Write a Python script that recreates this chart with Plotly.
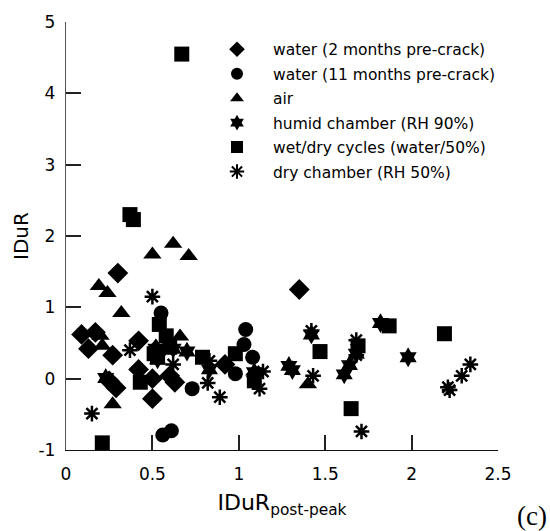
import plotly.graph_objects as go

# ---- data ----
water2_x = [0.09, 0.17, 0.13, 0.30, 0.27, 0.42, 0.42, 0.50, 0.50, 0.25, 0.29, 0.60, 0.63, 0.92, 1.35]
water2_y = [0.62, 0.65, 0.42, 1.48, 0.33, 0.53, 0.13, 0.00, -0.28, -0.03, -0.13, 0.04, -0.05, 0.20, 1.25]

water11_x = [0.55, 1.04, 1.03, 1.08, 0.98, 0.73, 0.56, 0.61]
water11_y = [0.92, 0.69, 0.48, 0.30, 0.07, -0.14, -0.79, -0.73]

air_x = [0.19, 0.24, 0.32, 0.50, 0.62, 0.71, 0.20, 0.21, 0.27, 0.66, 1.40, 1.09, 0.52]
air_y = [1.30, 1.20, 0.92, 1.74, 1.89, 1.72, 0.60, 0.46, -0.36, 0.59, -0.08, 0.10, 0.45]

humid_x = [0.23, 0.53, 0.70, 0.83, 1.09, 1.29, 1.31, 1.42, 1.61, 1.64, 1.68, 1.82, 1.98, 0.62, 0.52]
humid_y = [0.01, 0.27, 0.38, 0.13, 0.09, 0.18, 0.12, 0.62, 0.06, 0.19, 0.35, 0.78, 0.30, 0.42, 0.42]

wetdry_x = [0.67, 0.37, 0.39, 0.54, 0.58, 0.60, 0.51, 0.43, 0.79, 0.98, 1.09, 1.47, 1.69, 1.87, 2.19, 1.65, 0.21, 0.53]
wetdry_y = [4.55, 2.30, 2.23, 0.76, 0.60, 0.44, 0.35, -0.05, 0.30, 0.35, -0.03, 0.38, 0.46, 0.74, 0.63, -0.42, -0.90, 0.30]

dry_x = [0.15, 0.37, 0.50, 0.62, 0.82, 0.83, 0.89, 1.12, 1.14, 1.42, 1.43, 1.68, 1.68, 1.71, 2.21, 2.22, 2.29, 2.34]
dry_y = [-0.49, 0.40, 1.15, 0.20, -0.06, 0.25, -0.26, -0.14, 0.10, 0.67, 0.04, 0.54, 0.33, -0.74, -0.12, -0.16, 0.04, 0.20]

names = ["water (2 months pre-crack)", "water (11 months pre-crack)", "air",
         "humid chamber (RH 90%)", "wet/dry cycles (water/50%)", "dry chamber (RH 50%)"]

x_ticks = [0, 0.5, 1, 1.5, 2, 2.5]
x_ticktext = ["0", "0.5", "1", "1.5", "2", "2.5"]
y_ticks = [-1, 0, 1, 2, 3, 4, 5]
y_ticktext = ["-1", "0", "1", "2", "3", "4", "5"]

FONT = "DejaVu Sans"
TICK_LEN = 15

fig = go.Figure()

def add(x, y, name, symbol, size, lw=0):
    fig.add_trace(go.Scatter(
        x=x, y=y, mode="markers", name=name, cliponaxis=False, legendgroup=name,
        marker=dict(symbol=symbol, size=size, color="black",
                    line=dict(color="black", width=lw)),
    ))

add(water2_x, water2_y, names[0], "diamond", 16)
add(water11_x, water11_y, names[1], "circle", 15)
add(air_x, air_y, names[2], "triangle-up", 16)
add(humid_x, humid_y, names[3], "hexagram", 15)
add(wetdry_x, wetdry_y, names[4], "square", 15)
add(dry_x, dry_y, names[5], "asterisk-open", 13, 2.5)

axis_common = dict(
    showline=True, linewidth=1.3,
    ticks="inside", ticklen=TICK_LEN, tickcolor="#222", tickwidth=2,
    showgrid=False, zeroline=False, mirror=False,
    tickfont=dict(family=FONT, size=17, color="black"),
)

fig.update_layout(
    width=550, height=531,
    margin=dict(l=66, r=52, t=18, b=81),
    plot_bgcolor="white", paper_bgcolor="white",
    font=dict(family=FONT, color="black"),
    xaxis=dict(range=[0, 2.5], tickvals=x_ticks, ticktext=x_ticktext,
               linecolor="#111", ticklabelstandoff=8,
               title=dict(text="IDuR<sub>post-peak</sub>",
                          font=dict(family=FONT, size=22), standoff=12),
               **axis_common),
    yaxis=dict(range=[-1, 5], tickvals=y_ticks, ticktext=y_ticktext,
               linecolor="#555", ticklabelstandoff=6,
               title=dict(text="IDuR", font=dict(family=FONT, size=20), standoff=4),
               **axis_common),
    showlegend=True,
    legend=dict(x=0.3125, y=0.975, xanchor="left", yanchor="top",
                bgcolor="rgba(0,0,0,0)", font=dict(family=FONT, size=15.5),
                itemsizing="constant", itemwidth=62, tracegroupgap=1.3),
    annotations=[dict(text="(c)", xref="paper", yref="paper", x=1.078, y=-0.1545,
                      xanchor="center", yanchor="middle", showarrow=False,
                      font=dict(family="Liberation Serif", size=27, color="black"))],
)

fig.write_html("out.html")
